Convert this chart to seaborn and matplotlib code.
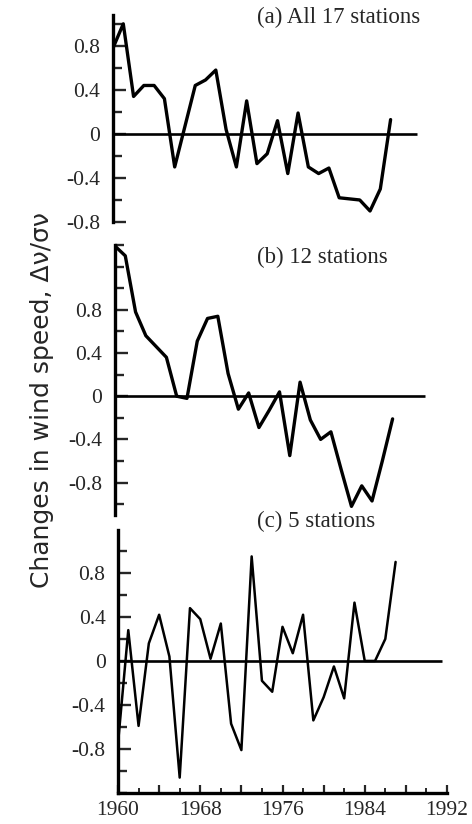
import numpy as np
import pandas as pd
import matplotlib.pyplot as plt
import seaborn as sns
from matplotlib.ticker import FixedLocator, MultipleLocator, FuncFormatter

# ── DATA ───────────────────────────────────────────────────────────
years = list(range(1960, 1988))

all_17 = [0.78, 1.00, 0.34, 0.44, 0.44, 0.32, -0.30, 0.07, 0.44, 0.49,
          0.58, 0.04, -0.30, 0.30, -0.27, -0.18, 0.12, -0.36, 0.19, -0.30,
          -0.36, -0.31, -0.58, -0.59, -0.60, -0.70, -0.50, 0.13]

st_12 = [1.39, 1.30, 0.78, 0.56, 0.46, 0.36, 0.00, -0.02, 0.51, 0.72,
         0.74, 0.21, -0.12, 0.03, -0.29, -0.13, 0.04, -0.55, 0.13, -0.22,
         -0.40, -0.33, -0.68, -1.02, -0.83, -0.97, -0.60, -0.21]

st_5 = [-0.75, 0.28, -0.59, 0.16, 0.42, 0.04, -1.06, 0.48, 0.38, 0.02,
        0.34, -0.57, -0.81, 0.95, -0.18, -0.28, 0.31, 0.07, 0.42, -0.54,
        -0.33, -0.05, -0.34, 0.53, 0.00, 0.00, 0.20, 0.90]

panel_titles = ["(a) All 17 stations", "(b) 12 stations", "(c) 5 stations"]
y_ticks = [-0.8, -0.4, 0, 0.4, 0.8]
y_tick_labels = ["-0.8", "-0.4", "0", "0.4", "0.8"]
x_labelled = [1960, 1968, 1976, 1984, 1992]
y_label = "Changes in wind speed, \u0394\u03bd/\u03c3\u03bd"

df = pd.DataFrame({"year": years, "a": all_17, "b": st_12, "c": st_5})

# ── LAYOUT ─────────────────────────────────────────────────────────
sns.set_style("white")
plt.rcParams["axes.unicode_minus"] = False
SERIF = ["Liberation Serif", "DejaVu Serif"]

W, H = 472, 824
fig = plt.figure(figsize=(W / 100, H / 100), dpi=100)


def px_axes(left, right, top, bottom):
    return fig.add_axes([left / W, 1 - bottom / H, (right - left) / W, (bottom - top) / H])


# (column, left px, top px, bottom px, ylim, zero line end, line width, title y px)
panels = [
    ("a", 113, 15, 222, (-0.80, 1.08), 1989.6, 2.4, 17),
    ("b", 115, 245, 515, (-1.10, 1.40), 1990.2, 2.4, 257),
    ("c", 118, 530, 793, (-1.20, 1.19), 1991.5, 1.8, 521),
]

for i, (col, left, top, bottom, ylim, zend, lw, ty) in enumerate(panels):
    ax = px_axes(left, left + 329, top, bottom)
    sns.lineplot(data=df, x="year", y=col, ax=ax, color="black", lw=lw)
    ax.hlines(0, 1960, zend, color="black", lw=1.9)
    ax.set_xlim(1960, 1992)
    ax.set_ylim(*ylim)
    ax.set_xlabel("")
    ax.set_ylabel("")

    for s in ["top", "right"]:
        ax.spines[s].set_visible(False)
    ax.spines["left"].set_linewidth(2.4)
    ax.spines["left"].set_color("black")

    ax.yaxis.set_major_locator(FixedLocator(y_ticks))
    ax.yaxis.set_minor_locator(MultipleLocator(0.2))
    ax.set_yticklabels(y_tick_labels, family=SERIF, fontsize=15.5)
    ax.tick_params(axis="y", which="major", direction="in", length=9.5, width=1.7, pad=9, left=True)
    ax.tick_params(axis="y", which="minor", direction="in", length=6.5, width=1.7, left=True)

    if col == "c":
        ax.spines["bottom"].set_linewidth(2.4)
        ax.spines["bottom"].set_color("black")
        ax.xaxis.set_major_locator(MultipleLocator(4))
        ax.xaxis.set_minor_locator(MultipleLocator(2))
        ax.xaxis.set_major_formatter(
            FuncFormatter(lambda v, p: f"{int(round(v))}" if int(round(v)) in x_labelled else ""))
        ax.tick_params(axis="x", which="major", direction="in", length=6, width=1.6, pad=6, bottom=True)
        ax.tick_params(axis="x", which="minor", direction="in", length=3.5, width=1.4, bottom=True)
        for t in ax.get_xticklabels():
            t.set_family(SERIF)
            t.set_fontsize(15.5)
    else:
        ax.spines["bottom"].set_visible(False)
        ax.set_xticks([])
    ax.patch.set_alpha(0)

    fig.text(257 / W, 1 - ty / H, panel_titles[i], family=SERIF, fontsize=16.5,
             ha="left", va="center")

fig.text(42 / W, 1 - 400 / H, y_label, rotation=90, ha="center", va="center",
         family=["DejaVu Sans"], fontsize=18)

fig.savefig("out.png", dpi=100)
